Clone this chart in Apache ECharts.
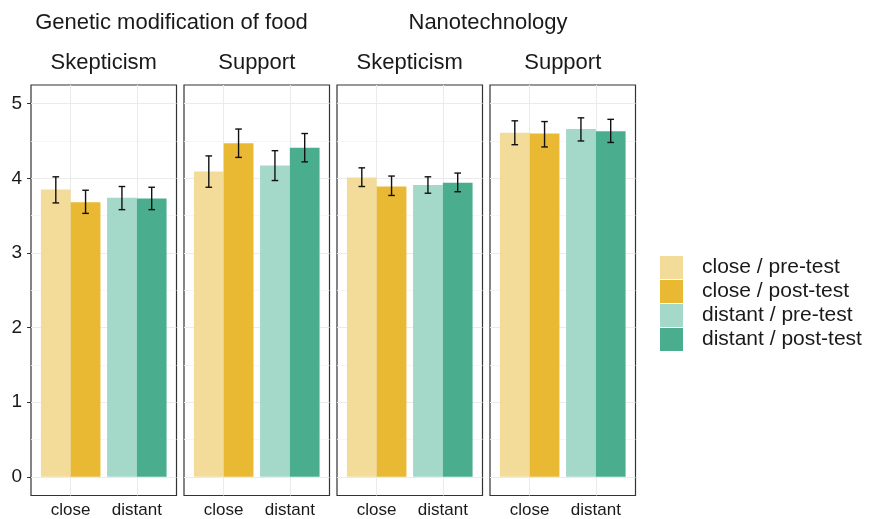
<!DOCTYPE html>
<html lang="en">
<head>
    <meta charset="UTF-8">
    <title>Skepticism and support by distance</title>
    <script src="https://cdn.jsdelivr.net/npm/echarts@6/dist/echarts.min.js"></script>
</head>
<body style="margin: 0;">
<div id="echart" style="width: 874px; height: 519px;"></div>
<script>
    // categories and labels
    var categories = ['close', 'distant'];
    var topics = ['Genetic modification of food', 'Nanotechnology'];
    var panels = ['Skepticism', 'Support', 'Skepticism', 'Support'];
    var groups = ['close / pre-test', 'close / post-test', 'distant / pre-test', 'distant / post-test'];
    var yTicks = [0, 1, 2, 3, 4, 5];

    // means, one value per panel
    var closePre = [3.85, 4.09, 4.01, 4.61];
    var closePost = [3.68, 4.47, 3.89, 4.60];
    var distantPre = [3.74, 4.17, 3.91, 4.66];
    var distantPost = [3.73, 4.41, 3.94, 4.63];

    // error bar ends
    var closePreLow = [3.67, 3.88, 3.89, 4.45];
    var closePreHigh = [4.02, 4.30, 4.14, 4.77];
    var closePostLow = [3.53, 4.28, 3.77, 4.42];
    var closePostHigh = [3.84, 4.66, 4.03, 4.76];
    var distantPreLow = [3.58, 3.97, 3.80, 4.50];
    var distantPreHigh = [3.89, 4.37, 4.02, 4.81];
    var distantPostLow = [3.58, 4.22, 3.82, 4.48];
    var distantPostHigh = [3.88, 4.60, 4.07, 4.79];

    var means = [closePre, closePost, distantPre, distantPost];
    var lows = [closePreLow, closePostLow, distantPreLow, distantPostLow];
    var highs = [closePreHigh, closePostHigh, distantPreHigh, distantPostHigh];

    var colors = ['#f3dc9a', '#e9b933', '#a4d8c8', '#4aae8e'];
    var font = '"Liberation Sans", Arial, sans-serif';
    var panelLeft = [31, 184, 337, 490];
    var panelWidth = 145.5;
    var half = 0.225;

    var dom = document.getElementById("echart");
    var myChart = echarts.init(dom);

    function renderBar(params, api) {
        var x = api.value(0) + (api.value(4) === 0 ? -half : half);
        var v = api.value(1);
        var p0 = api.coord([x - half, v]);
        var p1 = api.coord([x + half, 0]);
        var top = api.coord([x, api.value(3)]);
        var bot = api.coord([x, api.value(2)]);
        var capW = (api.coord([x + 0.05, 0])[0] - api.coord([x - 0.05, 0])[0]) / 2;
        var errStyle = {stroke: '#111', lineWidth: 1.4};
        return {
            type: 'group',
            children: [
                {type: 'rect', shape: {x: p0[0], y: p0[1], width: p1[0] - p0[0], height: p1[1] - p0[1]},
                    style: {fill: api.visual('color')}},
                {type: 'line', shape: {x1: top[0], y1: top[1], x2: bot[0], y2: bot[1]}, style: errStyle},
                {type: 'line', shape: {x1: top[0] - capW, y1: top[1], x2: top[0] + capW, y2: top[1]}, style: errStyle},
                {type: 'line', shape: {x1: bot[0] - capW, y1: bot[1], x2: bot[0] + capW, y2: bot[1]}, style: errStyle}
            ]
        };
    }

    var grids = [], xAxes = [], yAxes = [], series = [];
    for (var p = 0; p < panels.length; p++) {
        grids.push({
            left: panelLeft[p], top: 85, width: panelWidth, height: 410.5,
            show: true, borderColor: '#333', borderWidth: 1.2, backgroundColor: 'transparent'
        });
        xAxes.push({
            type: 'value', gridIndex: p, min: 0.4, max: 2.6,
            splitLine: {show: false}, axisLine: {show: false}, axisTick: {show: false},
            axisLabel: {
                customValues: [1, 2], margin: 6, fontSize: 17, fontFamily: font, color: '#1a1a1a',
                formatter: function (v) { return categories[Math.round(v) - 1]; }
            }
        });
        yAxes.push({
            type: 'value', gridIndex: p, min: -0.25, max: 5.25,
            splitLine: {show: false}, axisLine: {show: false},
            axisTick: {show: p === 0, customValues: yTicks, length: 4, lineStyle: {color: '#333'}},
            axisLabel: {show: p === 0, customValues: yTicks, margin: 9, fontSize: 19, fontFamily: font, color: '#1a1a1a'}
        });
        // panel grid lines
        var lines = [];
        yTicks.forEach(function (t) {
            lines.push({yAxis: t, lineStyle: {color: '#ebebeb', width: 1.1}});
            if (t < 5) lines.push({yAxis: t + 0.5, lineStyle: {color: '#f4f4f4', width: 0.8}});
        });
        categories.forEach(function (c, i) {
            lines.push({xAxis: i + 1, lineStyle: {color: '#ebebeb', width: 1.1}});
        });
        series.push({
            type: 'line', xAxisIndex: p, yAxisIndex: p, data: [], z: 1, silent: true,
            markLine: {silent: true, z: 1, symbol: 'none', label: {show: false}, animation: false,
                lineStyle: {type: 'solid'}, data: lines}
        });
        for (var g = 0; g < groups.length; g++) {
            var parts = groups[g].split(' / ');
            series.push({
                name: groups[g], type: 'custom', xAxisIndex: p, yAxisIndex: p, z: 3,
                itemStyle: {color: colors[g]},
                renderItem: renderBar,
                encode: {x: 0, y: [1, 2, 3]},
                data: [[categories.indexOf(parts[0]) + 1, means[g][p], lows[g][p], highs[g][p],
                    parts[1] === 'pre-test' ? 0 : 1]]
            });
        }
    }

    var texts = [
        {x: 171.5, y: 23, text: topics[0]},
        {x: 488, y: 23, text: topics[1]}
    ];
    panels.forEach(function (name, i) {
        texts.push({x: panelLeft[i] + panelWidth / 2, y: 63, text: name});
    });

    option = {
        animation: false,
        grid: grids,
        xAxis: xAxes,
        yAxis: yAxes,
        legend: {
            data: groups, orient: 'vertical', left: 660, top: 256, padding: 0,
            itemWidth: 23, itemHeight: 23, itemGap: 1, icon: 'rect',
            textStyle: {fontSize: 21, fontFamily: font, color: '#1a1a1a', padding: [0, 0, 0, 14]}
        },
        graphic: texts.map(function (t) {
            return {
                type: 'text', x: t.x, y: t.y,
                style: {text: t.text, fill: '#1a1a1a', font: '22px ' + font, align: 'center', verticalAlign: 'middle'}
            };
        }),
        series: series
    };
    myChart.setOption(option, true);
</script>
</body>
</html>
